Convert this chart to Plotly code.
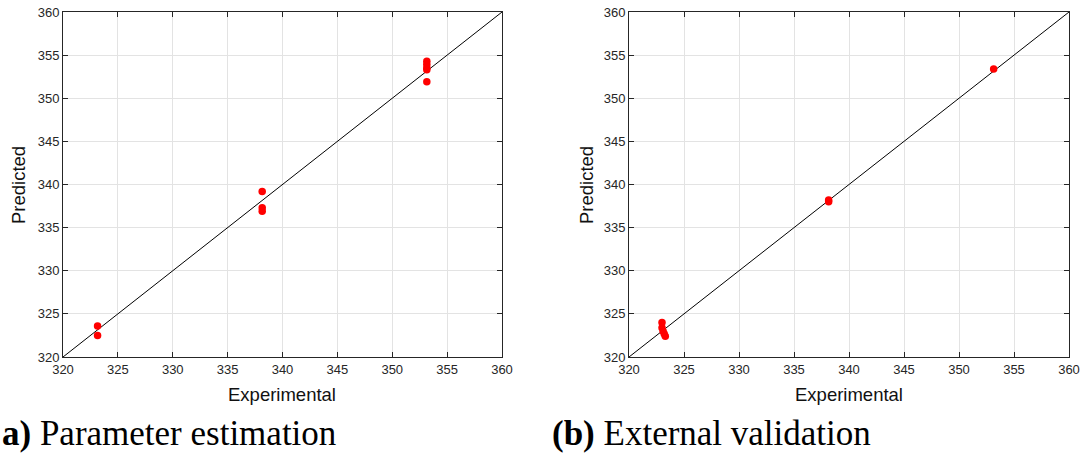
import plotly.graph_objects as go

W, H = 1083, 457

# Data (temperatures, K)
pe_exp = [323.15, 323.15, 338.15, 338.15, 338.15, 353.15, 353.15, 353.15, 353.15, 353.15]
pe_pred = [323.6, 322.5, 339.2, 337.3, 336.9, 354.3, 353.9, 353.5, 353.3, 351.9]

ev_exp = [323.0, 323.0, 323.1, 323.2, 323.3, 338.15, 338.15, 353.15]
ev_pred = [324.0, 323.4, 323.0, 322.7, 322.4, 338.2, 338.0, 353.4]

diag = [320, 360]
ticks = [320, 325, 330, 335, 340, 345, 350, 355, 360]

fig = go.Figure()

def px_x(p):
    return p / W

def px_y(p):
    return 1 - p / H

dom_y = [px_y(357), px_y(12)]
axes = [("x", "y", [px_x(63), px_x(502)]), ("x2", "y2", [px_x(629), px_x(1069)])]
data = [(pe_exp, pe_pred), (ev_exp, ev_pred)]

for (xa, ya, dom), (ex, pr) in zip(axes, data):
    fig.add_trace(go.Scatter(x=diag, y=diag, mode="lines", xaxis=xa, yaxis=ya,
                             line=dict(color="black", width=1), showlegend=False, hoverinfo="skip"))
    fig.add_trace(go.Scatter(x=ex, y=pr, mode="markers", xaxis=xa, yaxis=ya,
                             marker=dict(color="#ff0000", size=7.5, line=dict(width=0)),
                             showlegend=False))

axis_common = dict(range=[320, 360], tickvals=ticks, showgrid=True, gridcolor="#e3e3e3",
                   gridwidth=1, showline=True, linecolor="#262626", linewidth=1, mirror="ticks",
                   ticks="inside", ticklen=5, tickcolor="#262626", zeroline=False,
                   automargin=False,
                   tickfont=dict(family="Liberation Sans, Arial", size=13, color="#262626"))

fig.update_layout(
    width=W, height=H, margin=dict(l=0, r=0, t=0, b=0, pad=0, autoexpand=False),
    paper_bgcolor="white", plot_bgcolor="white", showlegend=False,
    xaxis=dict(domain=axes[0][2], anchor="y", **axis_common),
    yaxis=dict(domain=dom_y, anchor="x", **axis_common),
    xaxis2=dict(domain=axes[1][2], anchor="y2", **axis_common),
    yaxis2=dict(domain=dom_y, anchor="x2", **axis_common),
)

lab_font = dict(family="Liberation Sans, Arial", size=18.5, color="#111111")
cap_font = dict(family="Liberation Serif, Times New Roman, serif", size=35, color="black")

annotations = [
    dict(text="Experimental", x=px_x(282), y=px_y(394), xanchor="center", yanchor="middle",
         xref="paper", yref="paper", showarrow=False, font=lab_font),
    dict(text="Experimental", x=px_x(849), y=px_y(394), xanchor="center", yanchor="middle",
         xref="paper", yref="paper", showarrow=False, font=lab_font),
    dict(text="Predicted", x=px_x(18), y=px_y(185), xanchor="center", yanchor="middle",
         xref="paper", yref="paper", showarrow=False, font=lab_font, textangle=-90),
    dict(text="Predicted", x=px_x(586), y=px_y(185), xanchor="center", yanchor="middle",
         xref="paper", yref="paper", showarrow=False, font=lab_font, textangle=-90),
    dict(text="<b>a)</b> Parameter estimation", x=px_x(0), y=px_y(433), xanchor="left",
         yanchor="middle", xref="paper", yref="paper", showarrow=False, font=cap_font),
    dict(text="<b>(b)</b> External validation", x=px_x(550), y=px_y(433), xanchor="left",
         yanchor="middle", xref="paper", yref="paper", showarrow=False, font=cap_font),
]
fig.update_layout(annotations=annotations)

fig.write_html("out.html")
